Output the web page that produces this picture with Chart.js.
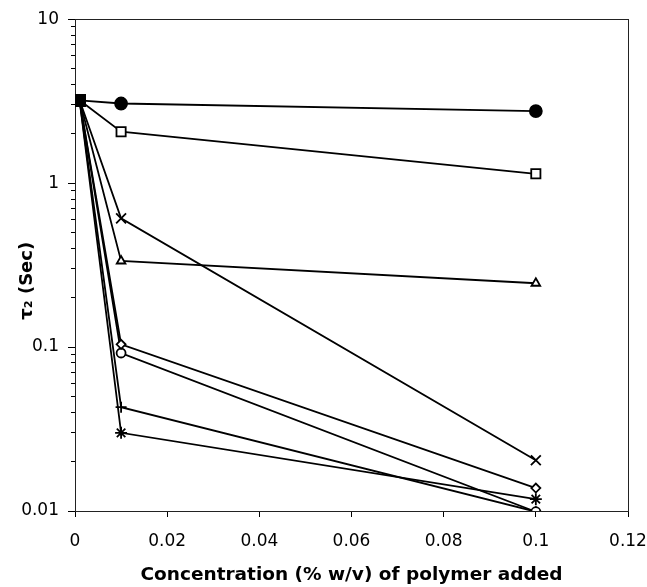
<!DOCTYPE html>
<html>
<head>
<meta charset="utf-8">
<title>tau2 vs polymer concentration</title>
<script src="https://cdn.jsdelivr.net/npm/chart.js@4.4.1/dist/chart.umd.min.js"></script>
<style>
  html, body { margin: 0; padding: 0; background: #fff; }
  canvas { display: block; }
</style>
</head>
<body>
<canvas id="chart" width="647" height="587"></canvas>
<script>
// Concentration (% w/v) of polymer added
const concentrations = [0.001, 0.01, 0.1];

// tau2 (Sec) for each polymer
const filledCircle = [3.2, 3.06, 2.75];
const openSquare = [3.2, 2.06, 1.14];
const crossX = [3.2, 0.61, 0.0204];
const openTriangle = [3.2, 0.335, 0.245];
const openDiamond = [3.2, 0.104, 0.0138];
const openCircle = [3.2, 0.092, 0.0099];
const plusSign = [3.2, 0.043, 0.0099];
const asterisk = [3.2, 0.030, 0.0118];

// axis ticks
const xTicks = [0, 0.02, 0.04, 0.06, 0.08, 0.1, 0.12];
const yMajorTicks = [0.01, 0.1, 1, 10];

const FONT = "'DejaVu Sans', 'Liberation Sans', Arial, sans-serif";

function makeSeries(label, values, style, filled, radius) {
    return {
        label: label,
        data: concentrations.map((x, i) => ({ x: x, y: values[i] })),
        borderColor: "#000",
        borderWidth: 1.8,
        pointStyle: ctx => ctx.dataIndex === 0 ? "rect" : style,
        pointRadius: ctx => ctx.dataIndex === 0 ? 7.5 : radius,
        pointBackgroundColor: ctx => (ctx.dataIndex === 0 || filled) ? "#000" : "#fff",
        pointBorderColor: "#000",
        pointBorderWidth: 1.8,
        tension: 0
    };
}

// box around the plot area (top and right sides)
const frame = {
    id: "frame",
    beforeDatasetsDraw(chart) {
        const { ctx, chartArea: a } = chart;
        ctx.save();
        ctx.strokeStyle = "#222";
        ctx.lineWidth = 1;
        ctx.strokeRect(Math.round(a.left) + 0.5, Math.round(a.top) + 0.5,
            Math.round(a.right - a.left), Math.round(a.bottom - a.top));
        ctx.restore();
    }
};

new Chart(document.getElementById("chart").getContext("2d"), {
    type: "line",
    data: {
        datasets: [
            makeSeries("Polymer 1", filledCircle, "circle", true, 6),
            makeSeries("Polymer 2", openSquare, "rect", false, 6.5),
            makeSeries("Polymer 3", crossX, "crossRot", false, 7),
            makeSeries("Polymer 4", openTriangle, "triangle", false, 5),
            makeSeries("Polymer 5", openDiamond, "rectRot", false, 4.5),
            makeSeries("Polymer 6", openCircle, "circle", false, 4.5),
            makeSeries("Polymer 7", plusSign, "cross", false, 5.5),
            makeSeries("Polymer 8", asterisk, "star", false, 6)
        ]
    },
    options: {
        responsive: false,
        animation: false,
        layout: { padding: { top: 17, right: 19, left: 0, bottom: 0 } },
        plugins: {
            legend: { display: false },
            tooltip: { enabled: false }
        },
        scales: {
            x: {
                type: "linear",
                min: 0,
                max: 0.12,
                afterBuildTicks: scale => {
                    scale.ticks = xTicks.map(v => ({ value: v }));
                },
                afterFit: scale => {
                    scale.height = 76;
                    scale.paddingLeft = 0;
                    scale.paddingRight = 0;
                },
                ticks: {
                    color: "#000",
                    font: { family: FONT, size: 17 },
                    padding: 14,
                    callback: v => parseFloat(v.toFixed(2)).toString()
                },
                grid: { drawOnChartArea: false, tickLength: 6, color: "#000" },
                border: { color: "#000", width: 1 },
                title: {
                    display: true,
                    text: "Concentration (% w/v) of polymer added",
                    color: "#000",
                    font: { family: FONT, size: 18.5, weight: "bold" },
                    padding: { top: 0, bottom: 1 }
                }
            },
            y: {
                type: "logarithmic",
                min: 0.01,
                max: 10,
                afterBuildTicks: scale => {
                    const ticks = [];
                    yMajorTicks.forEach((m, i) => {
                        ticks.push({ value: m, major: true });
                        if (i < yMajorTicks.length - 1) {
                            for (let k = 2; k <= 9; k++) {
                                ticks.push({ value: m * k, major: false });
                            }
                        }
                    });
                    scale.ticks = ticks;
                },
                afterFit: scale => { scale.width = 75; },
                ticks: {
                    color: "#000",
                    font: { family: FONT, size: 17 },
                    padding: 9,
                    autoSkip: false,
                    callback: (v, i, ticks) => ticks[i].major ? parseFloat(v.toPrecision(1)).toString() : ""
                },
                grid: {
                    drawOnChartArea: false,
                    tickLength: 7,
                    color: "#000",
                    tickBorderDash: ctx => (ctx.tick && ctx.tick.major) ? [] : [0, 3, 4]
                },
                border: { color: "#000", width: 1 },
                title: {
                    display: true,
                    text: "τ₂ (Sec)\u00a0\u00a0\u00a0\u00a0\u00a0",
                    color: "#000",
                    font: { family: FONT, size: 18, weight: "bold" },
                    padding: { top: 17, bottom: 0 }
                }
            }
        }
    },
    plugins: [frame]
});
</script>
</body>
</html>
